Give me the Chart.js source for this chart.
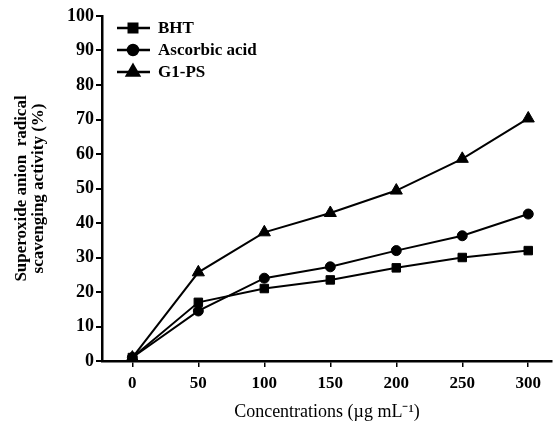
<!DOCTYPE html>
<html>
<head>
<meta charset="utf-8">
<script src="https://cdn.jsdelivr.net/npm/chart.js@4"></script>
<style>
  html, body { margin: 0; padding: 0; background: #fff; }
  #wrap { width: 560px; height: 427px; }
</style>
</head>
<body>
<div id="wrap"><canvas id="grafico" width="560" height="427"></canvas></div>
<script>
const concentrations = [0, 50, 100, 150, 200, 250, 300];
const bht = [1, 17, 21, 23.5, 27, 30, 32];
const ascorbic = [1, 14.5, 24, 27.3, 32, 36.3, 42.6];
const g1ps = [1, 25.7, 37.3, 42.9, 49.4, 58.6, 70.3];
const xTicks = [0, 50, 100, 150, 200, 250, 300];
const yTicks = [0, 10, 20, 30, 40, 50, 60, 70, 80, 90, 100];

const serif = '"Liberation Serif", "Times New Roman", serif';

function pontos(vals) {
  return concentrations.map((c, i) => ({ x: c, y: vals[i] }));
}

// legenda desenhada dentro da área do gráfico (linha + marcador)
const legendaInterna = {
  id: 'legendaInterna',
  afterDraw(chart) {
    const ctx = chart.ctx;
    ctx.save();
    chart.data.datasets.forEach((ds, i) => {
      const y = 28 + i * 22;
      ctx.strokeStyle = '#000';
      ctx.lineWidth = 2.5;
      ctx.beginPath();
      ctx.moveTo(117, y);
      ctx.lineTo(150, y);
      ctx.stroke();
      Chart.helpers.drawPoint(ctx, {
        pointStyle: ds.pointStyle,
        radius: ds.pointRadius,
        rotation: 0,
        borderWidth: 1
      }, 133, y);
      ctx.fillStyle = '#000';
      ctx.font = 'bold 17px ' + serif;
      ctx.textBaseline = 'middle';
      ctx.fillText(ds.label, 158, y + 1);
    });
    ctx.restore();
  }
};

const ctx = document.getElementById('grafico').getContext('2d');
new Chart(ctx, {
  type: 'line',
  data: {
    datasets: [{
      label: 'BHT',
      data: pontos(bht),
      pointStyle: 'rect',
      pointRadius: 6
    }, {
      label: 'Ascorbic acid',
      data: pontos(ascorbic),
      pointStyle: 'circle',
      pointRadius: 5
    }, {
      label: 'G1-PS',
      data: pontos(g1ps),
      pointStyle: 'triangle',
      pointRadius: 7
    }].map(d => Object.assign(d, {
      borderColor: '#000',
      backgroundColor: '#000',
      borderWidth: 2,
      pointBorderWidth: 1,
      tension: 0
    }))
  },
  options: {
    responsive: false,
    animation: false,
    layout: { padding: { top: 16, right: 3, left: 0, bottom: 0 } },
    plugins: {
      legend: { display: false },
      tooltip: { enabled: false }
    },
    scales: {
      x: {
        type: 'linear',
        min: -23,
        max: 318,
        afterBuildTicks: s => { s.ticks = xTicks.map(v => ({ value: v })); },
        afterFit: s => { s.height = 66; },
        border: { color: '#000', width: 2.5 },
        grid: { drawOnChartArea: false, color: '#000', tickLength: 6, lineWidth: 1.5 },
        ticks: {
          color: '#000',
          padding: 6,
          font: { family: serif, size: 17, weight: 'bold' }
        },
        title: {
          display: true,
          text: 'Concentrations (\u00b5g mL\u207b\u00b9)',
          color: '#000',
          padding: { top: 6 },
          font: { family: serif, size: 18 }
        }
      },
      y: {
        min: 0,
        max: 100,
        afterBuildTicks: s => { s.ticks = yTicks.map(v => ({ value: v })); },
        afterFit: s => { s.width = 102; },
        border: { color: '#000', width: 2.5 },
        grid: { drawOnChartArea: false, color: '#000', tickLength: 6, lineWidth: 2 },
        ticks: {
          color: '#000',
          padding: 2,
          font: { family: serif, size: 18, weight: 'bold' }
        },
        title: {
          display: true,
          text: ['Superoxide anion  radical', 'scavenging activity (%)'],
          color: '#000',
          padding: { top: 14, bottom: 8 },
          font: { family: serif, size: 17, weight: 'bold', lineHeight: 0.95 }
        }
      }
    }
  },
  plugins: [legendaInterna]
});
</script>
</body>
</html>
